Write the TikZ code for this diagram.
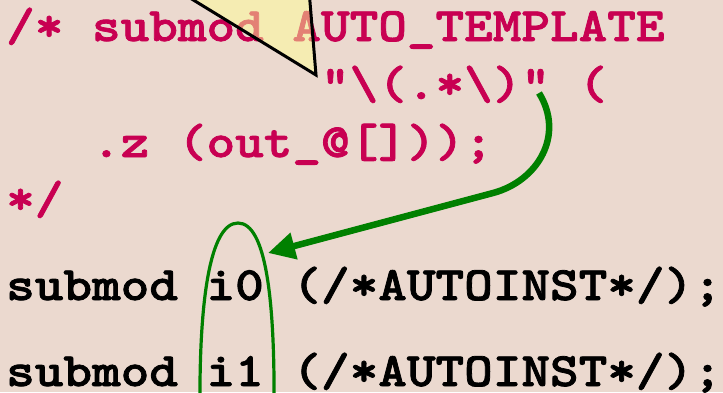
\documentclass[tikz,border=0pt]{standalone}
\usepackage{fontspec}
\setmonofont{lmmono10-regular.otf}[BoldFont=lmmonolt10-bold.otf, BoldFeatures={FakeBold=1.6}, FakeStretch=1.136]
\usetikzlibrary{arrows.meta}
\definecolor{bg}{RGB}{235,217,207}
\definecolor{crim}{RGB}{200,0,82}
\definecolor{grn}{RGB}{0,128,0}
\definecolor{tri}{RGB}{255,255,150}
\begin{document}
\begin{tikzpicture}[x=1pt,y=-1pt,
  code/.style={anchor=base west, inner sep=0pt, font=\fontsize{48}{50}\selectfont\ttfamily\bfseries},
  tmpl/.style={code, text=crim},
  inst/.style={code, text=black},
  callout/.style={fill=tri, fill opacity=0.5, draw=black, line width=3pt, line join=miter},
  greenarrow/.style={draw=grn, line width=6.5pt, -{Triangle[length=27pt,width=26pt]}},
  greenloop/.style={draw=grn, line width=3.2pt}]
\useasboundingbox (0,0) rectangle (723,392);
\fill[bg] (0,0) rectangle (723,392);
\clip (0,0) rectangle (723,392);
% template text
\node[tmpl] (l1) at (6,41) {/* submod AUTO\_TEMPLATE};
\node[tmpl] (l2) at (320.8,99) {"\textbackslash(.*\textbackslash)” (};
\node[tmpl] (l3) at (91.9,157) {.z (out\_@[]));};
\node[tmpl] (l4) at (6,214) {*/};
% instances
\node[inst] (l5) at (6,300) {submod i0 (/*AUTOINST*/);};
\node[inst] (l6) at (6,386) {submod i1 (/*AUTOINST*/);};
% callout pointer
\path[callout] (177,-10) -- (316,75) -- (309,-10) -- cycle;
% arrow
\coordinate (qstart) at (539,93);
\coordinate (bend) at (493,193);
\coordinate (tip) at (268,253);
\draw[greenarrow] (qstart) .. controls (565,135) and (538,181) .. (bend) -- (tip);
% loop around instance names
\draw[greenloop] (200,410) .. controls (199,300) and (210,223) .. (238,223)
  .. controls (266,223) and (275,300) .. (274,410);
\end{tikzpicture}
\end{document}
